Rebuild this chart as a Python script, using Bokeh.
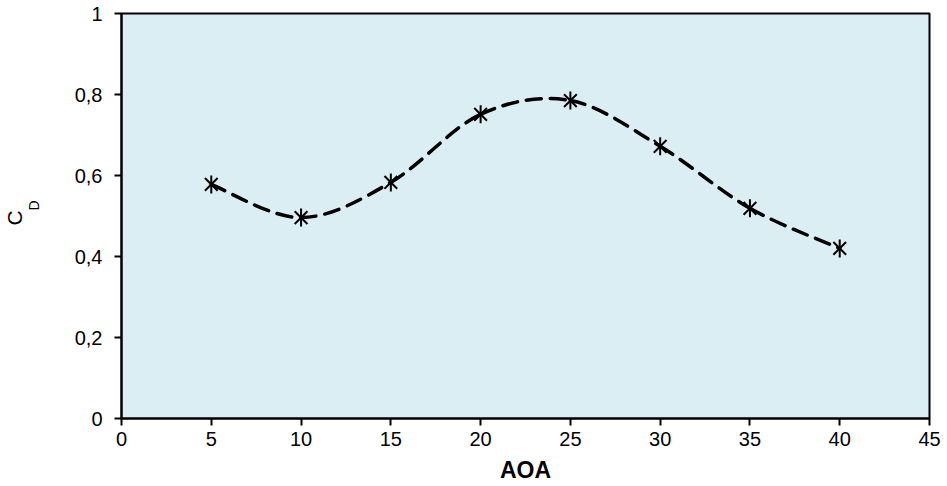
import numpy as np
from bokeh.plotting import figure
from bokeh.models import Range1d, FixedTicker, CustomJSTickFormatter, Title, ColumnDataSource
from bokeh.embed import file_html
from bokeh.resources import INLINE

# Data
aoa = [5, 10, 15, 20, 25, 30, 35, 40]
cd = [0.578, 0.496, 0.583, 0.751, 0.785, 0.672, 0.519, 0.420]
x_ticks = [0, 5, 10, 15, 20, 25, 30, 35, 40, 45]
y_ticks = [0, 0.2, 0.4, 0.6, 0.8, 1.0]

FONT = "Liberation Sans"

p = figure(width=947, height=486, output_backend="svg", toolbar_location=None,
           x_range=Range1d(0, 45), y_range=Range1d(0, 1),
           min_border_left=121, min_border_right=18, min_border_top=13, min_border_bottom=68)
p.background_fill_color = "#DBEEF4"
p.border_fill_color = "white"
p.outline_line_color = "black"
p.outline_line_width = 2
p.xgrid.visible = False
p.ygrid.visible = False

# Smoothed (Catmull-Rom style) bezier segments computed from data
X = np.array(aoa, dtype=float)
Y = np.array(cd, dtype=float)
Xp = np.concatenate([[X[0]], X, [X[-1]]])
Yp = np.concatenate([[Y[0]], Y, [Y[-1]]])
n = len(X)
x0 = X[:-1]; y0 = Y[:-1]; x1 = X[1:]; y1 = Y[1:]
cx0 = X[:-1] + (Xp[2:n+1] - Xp[0:n-1]) / 6.0
cy0 = Y[:-1] + (Yp[2:n+1] - Yp[0:n-1]) / 6.0
cx1 = X[1:] - (Xp[3:n+2] - Xp[1:n]) / 6.0
cy1 = Y[1:] - (Yp[3:n+2] - Yp[1:n]) / 6.0
bsrc = ColumnDataSource(dict(x0=x0, y0=y0, x1=x1, y1=y1, cx0=cx0, cy0=cy0, cx1=cx1, cy1=cy1))
p.bezier(x0="x0", y0="y0", x1="x1", y1="y1", cx0="cx0", cy0="cy0", cx1="cx1", cy1="cy1",
         source=bsrc, line_color="black", line_width=3.5, line_dash="15 9", line_cap="round")

# Star markers
p.scatter(aoa, cd, marker="x", size=18, line_color="black", line_width=2)
p.scatter(aoa, cd, marker="dash", angle=np.pi / 2, size=18, line_color="black", line_width=2)

# Axes
for ax in (p.xaxis[0], p.yaxis[0]):
    ax.axis_line_color = "black"
    ax.axis_line_width = 2
    ax.major_tick_line_color = "black"
    ax.major_tick_line_width = 2
    ax.major_tick_out = 7
    ax.major_tick_in = 0
    ax.minor_tick_line_color = None
    ax.major_label_text_font = FONT
    ax.major_label_text_font_size = "20px"
    ax.major_label_text_color = "black"

p.xaxis.ticker = FixedTicker(ticks=x_ticks)
p.yaxis.ticker = FixedTicker(ticks=y_ticks)
p.yaxis.formatter = CustomJSTickFormatter(code="var s = (Math.round(tick*10)/10).toString(); return s.replace('.', ',');")
p.xaxis.major_label_standoff = 6
p.yaxis.major_label_standoff = 12

# spacer between tick labels and the C_D label
p.yaxis.axis_label = "\u00a0"
p.yaxis.axis_label_text_font_size = "1px"
p.yaxis.axis_label_standoff = 24

p.xaxis.axis_label = "AOA"
p.xaxis.axis_label_text_font = FONT
p.xaxis.axis_label_text_font_style = "bold"
p.xaxis.axis_label_text_font_size = "23px"
p.xaxis.axis_label_text_color = "black"
p.xaxis.axis_label_standoff = 8

# Y axis label: C with subscript D (side titles on the left)
p.add_layout(Title(text="D", text_font=FONT, text_font_size="14px", text_font_style="normal",
                   text_color="black", align="left", offset=208, standoff=0,
                   vertical_align="top"), "left")
p.add_layout(Title(text="C", text_font=FONT, text_font_size="21px", text_font_style="normal",
                   text_color="black", align="left", offset=193, standoff=0), "left")

open("out.html", "w").write(file_html(p, INLINE))
